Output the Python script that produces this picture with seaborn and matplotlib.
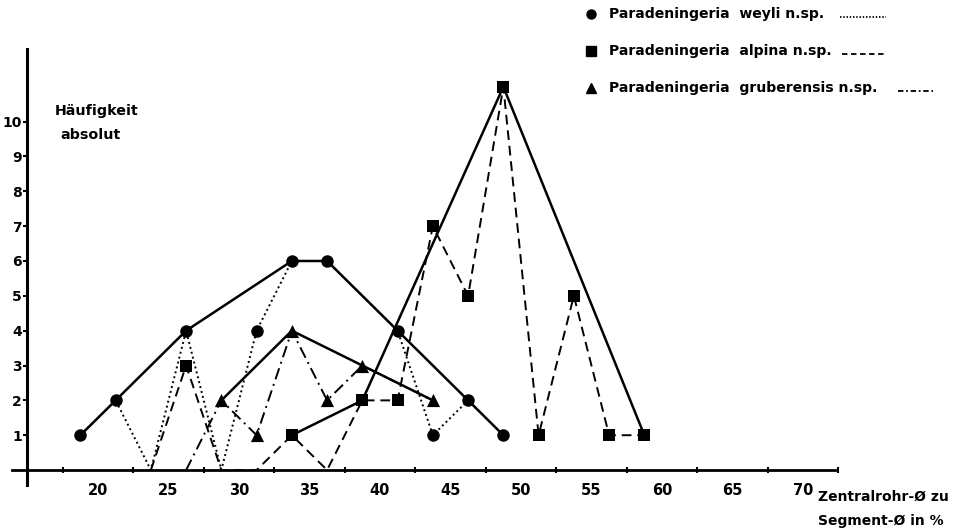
import numpy as np
import pandas as pd
import seaborn as sns
from matplotlib import pyplot as plt

# class midpoints (Zentralrohr-Ø / Segment-Ø in %) and absolute counts
weyli_x = [18.75, 21.25, 23.75, 26.25, 28.75, 31.25, 33.75, 36.25, 41.25, 43.75, 46.25, 48.75]
weyli_y = [1, 2, 0, 4, 0, 4, 6, 6, 4, 1, 2, 1]
weyli_smooth_x = [18.75, 21.25, 26.25, 33.75, 36.25, 41.25, 46.25, 48.75]
weyli_smooth_y = [1, 2, 4, 6, 6, 4, 2, 1]

alpina_x = [23.75, 26.25, 28.75, 31.25, 33.75, 36.25, 38.75, 41.25, 43.75, 46.25, 48.75, 51.25, 53.75, 56.25, 58.75]
alpina_y = [0, 3, 0, 0, 1, 0, 2, 2, 7, 5, 11, 1, 5, 1, 1]
alpina_smooth_x = [33.75, 38.75, 48.75, 58.75]
alpina_smooth_y = [1, 2, 11, 1]

grub_x = [26.25, 28.75, 31.25, 33.75, 36.25, 38.75, 43.75]
grub_y = [0, 2, 1, 4, 2, 3, 2]
grub_smooth_x = [28.75, 33.75, 43.75]
grub_smooth_y = [2, 4, 2]

x_labels = [20, 25, 30, 35, 40, 45, 50, 55, 60, 65, 70]
x_minor = [17.5, 22.5, 27.5, 32.5, 37.5, 42.5, 47.5, 52.5, 57.5, 62.5, 67.5, 72.5]
y_labels = [1, 2, 3, 4, 5, 6, 7, 8, 9, 10]

sns.set_style("white")
plt.rcParams['font.family'] = ['DejaVu Sans']
plt.rcParams['font.weight'] = 'bold'
plt.rcParams['text.color'] = 'black'
plt.rcParams['xtick.color'] = 'black'
plt.rcParams['ytick.color'] = 'black'

fig = plt.figure(figsize=(9.63, 5.30), dpi=100)
ax = fig.add_axes([0, 0, 1, 1])
ax.set_xlim(13.05, 81.35)
ax.set_ylim(-1.72, 13.49)

series = [
    (weyli_x, weyli_y, weyli_smooth_x, weyli_smooth_y, (0, (1, 1.6)), 'o', 9),
    (alpina_x, alpina_y, alpina_smooth_x, alpina_smooth_y, (0, (5, 3)), 's', 8.5),
    (grub_x, grub_y, grub_smooth_x, grub_smooth_y, (0, (6, 2.5, 1, 2.5)), '^', 9.5),
]

for rx, ry, sx, sy, ls, mk, ms in series:
    raw = pd.DataFrame({'x': rx, 'y': ry})
    smooth = pd.DataFrame({'x': sx, 'y': sy})
    sns.lineplot(data=raw, x='x', y='y', sort=False, errorbar=None, ax=ax,
                 color='black', linewidth=1.4, linestyle=ls)
    sns.lineplot(data=smooth, x='x', y='y', sort=False, errorbar=None, ax=ax,
                 color='black', linewidth=1.8)
    pts = raw[raw['y'] > 0]
    sns.scatterplot(data=pts, x='x', y='y', marker=mk, s=ms ** 2, color='black',
                    edgecolor='black', linewidth=0, ax=ax, zorder=5)

ax.set_xlabel('')
ax.set_ylabel('')

# axes crossing like the printed figure
for s in ['top', 'right']:
    ax.spines[s].set_visible(False)
ax.spines['bottom'].set_position(('data', 0))
ax.spines['bottom'].set_bounds(13.9, 72.3)
ax.spines['left'].set_position(('data', 15.0))
ax.spines['left'].set_bounds(-0.43, 12.09)
ax.spines['bottom'].set_linewidth(2)
ax.spines['left'].set_linewidth(2.2)
ax.spines['bottom'].set_color('black')
ax.spines['left'].set_color('black')

ax.set_xticks(x_labels)
ax.set_xticklabels([str(v) for v in x_labels], fontsize=10.5, fontweight='bold')
ax.set_xticks(x_minor, minor=True)
ax.tick_params(axis='x', which='major', length=0, pad=9)
ax.tick_params(axis='x', which='minor', length=4, width=1.5, direction='inout', bottom=True)
ax.set_yticks(y_labels)
ax.set_yticklabels([str(v) for v in y_labels], fontsize=10, fontweight='bold')
ax.tick_params(axis='y', which='major', length=3, width=1.5, direction='out', pad=1, left=True)

ax.text(55 / 963, 1 - 111 / 530, 'Häufigkeit', transform=ax.transAxes,
        fontsize=10.3, fontweight='bold', va='center', ha='left')
ax.text(60 / 963, 1 - 135 / 530, 'absolut', transform=ax.transAxes,
        fontsize=10.3, fontweight='bold', va='center', ha='left')

ax.text(818 / 963, 1 - 497 / 530, 'Zentralrohr-Ø zu', transform=ax.transAxes,
        fontsize=10, fontweight='bold', va='center', ha='left')
ax.text(818 / 963, 1 - 521 / 530, 'Segment-Ø in %', transform=ax.transAxes,
        fontsize=10, fontweight='bold', va='center', ha='left')

# legend drawn like the original: marker, name, line sample
legend_names = ['Paradeningeria  weyli n.sp.', 'Paradeningeria  alpina n.sp.',
                'Paradeningeria  gruberensis n.sp.']
legend_markers = ['o', 's', '^']
legend_styles = [(0, (0.8, 1.0)), (0, (3, 2)), (0, (3, 1.5, 1, 1.5))]
legend_rows = [14, 51, 88]
legend_start = [840, 842, 898]
legend_end = [886, 886, 933]
for name, mk, ls, row, x0, x1 in zip(legend_names, legend_markers, legend_styles,
                                     legend_rows, legend_start, legend_end):
    yy = 1 - row / 530
    ax.plot([591 / 963], [yy], marker=mk, color='black', markersize=6.5,
            transform=ax.transAxes, clip_on=False)
    ax.text(609 / 963, yy, name, transform=ax.transAxes, fontsize=10.1,
            fontweight='bold', va='center', ha='left')
    ax.plot([x0 / 963, x1 / 963], [yy - 0.006, yy - 0.006], color='black', linewidth=1.3,
            linestyle=ls, transform=ax.transAxes, clip_on=False)

fig.savefig('out.png', dpi=100)
